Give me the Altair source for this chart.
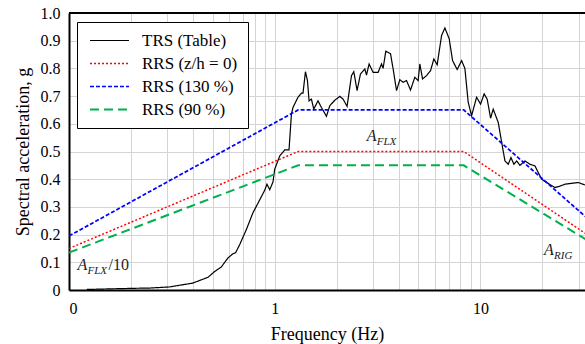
import altair as alt
import pandas as pd

# ---- TRS (Table) curve ----
trs_freq = [0.122, 0.204, 0.246, 0.308, 0.400, 0.474, 0.511, 0.550, 0.593, 0.627,
            0.645, 0.676, 0.728, 0.784, 0.845, 0.894, 0.917, 0.946, 0.981, 1.000,
            1.058, 1.119, 1.174, 1.206, 1.227, 1.298, 1.349, 1.373, 1.411, 1.443,
            1.469, 1.509, 1.548, 1.624, 1.687, 1.785, 1.852, 1.959, 2.072, 2.150,
            2.248, 2.362, 2.424, 2.515, 2.612, 2.742, 2.794, 2.877, 3.008, 3.183,
            3.306, 3.365, 3.468, 3.656, 3.765, 3.911, 4.058, 4.210, 4.374, 4.574,
            4.800, 4.981, 5.077, 5.233, 5.473, 5.724, 5.940, 6.164, 6.476, 6.721,
            7.052, 7.324, 7.712, 8.101, 8.407, 8.722, 9.061, 9.583, 10.02, 10.43,
            10.79, 11.21, 11.54, 12.21, 12.69, 13.16, 13.66, 14.08, 14.55, 15.00,
            15.57, 16.46, 17.41, 18.42, 19.11, 19.86, 21.00, 23.04, 24.37, 25.77,
            27.79, 29.92, 32.25]
trs_acc = [0.002, 0.006, 0.007, 0.011, 0.025, 0.046, 0.067, 0.083, 0.116, 0.131,
           0.134, 0.164, 0.218, 0.279, 0.325, 0.360, 0.382, 0.362, 0.390, 0.436,
           0.484, 0.506, 0.506, 0.635, 0.659, 0.696, 0.711, 0.711, 0.788, 0.756,
           0.683, 0.689, 0.653, 0.683, 0.659, 0.627, 0.665, 0.685, 0.699, 0.689,
           0.663, 0.774, 0.788, 0.720, 0.780, 0.798, 0.776, 0.816, 0.786, 0.786,
           0.816, 0.800, 0.862, 0.853, 0.798, 0.720, 0.759, 0.750, 0.756, 0.722,
           0.768, 0.756, 0.816, 0.762, 0.774, 0.792, 0.834, 0.813, 0.919, 0.946,
           0.907, 0.828, 0.796, 0.828, 0.800, 0.678, 0.629, 0.696, 0.671, 0.708,
           0.689, 0.620, 0.653, 0.605, 0.533, 0.466, 0.454, 0.478, 0.454, 0.466,
           0.450, 0.466, 0.454, 0.448, 0.424, 0.400, 0.388, 0.370, 0.375, 0.382,
           0.385, 0.388, 0.379]

# ---- Required response spectra ----
rrs_freq = [0.1, 1.3, 8.3, 33.0]
rrs_base = [0.15, 0.50, 0.50, 0.20]
rrs_130 = [0.195, 0.65, 0.65, 0.26]
rrs_90 = [0.135, 0.45, 0.45, 0.18]

series_names = ["TRS (Table)", "RRS (z/h = 0)", "RRS (130 %)", "RRS (90 %)"]
series_colors = ["#000000", "#ff0000", "#0000ff", "#00b050"]
series_dash = [[1, 0], [2, 2], [4, 2], [9, 5]]
series_width = [1.2, 2.0, 1.4, 1.6]

# ---- Axis ticks ----
x_grid = [0.1, 0.2, 0.3, 0.4, 0.5, 0.6, 0.7, 0.8, 0.9,
          1, 2, 3, 4, 5, 6, 7, 8, 9, 10, 20, 30]
y_ticks = [0.0, 0.1, 0.2, 0.3, 0.4, 0.5, 0.6, 0.7, 0.8, 0.9, 1.0]

# ---- Annotations ----
ann_freq = [2.8, 0.11, 20.4]
ann_acc = [0.537, 0.072, 0.127]
ann_main = ["A", "A", "A"]
ann_sub = ["FLX", "FLX", "RIG"]
ann_tail_freq = [0.11]
ann_tail_acc = [0.072]
ann_tail = ["/10"]

rows = []
for f, a in zip(trs_freq, trs_acc):
    rows.append({"f": f, "g": a, "series": series_names[0], "o": len(rows)})
for name, vals in zip(series_names[1:], [rrs_base, rrs_130, rrs_90]):
    for f, a in zip(rrs_freq, vals):
        rows.append({"f": f, "g": a, "series": name, "o": len(rows)})
df = pd.DataFrame(rows)

ann_df = pd.DataFrame({"f": ann_freq, "g": ann_acc, "main": ann_main, "sub": ann_sub})
tail_df = pd.DataFrame({"f": ann_tail_freq, "g": ann_tail_acc, "t": ann_tail})

FONT = "Liberation Serif"

xscale = alt.Scale(type="log", domain=[0.1, 32.25], nice=False)
yscale = alt.Scale(domain=[0, 1], nice=False)

x_label_expr = ("abs(datum.value - 0.1) < 1e-9 ? '0' : "
                "(abs(datum.value - 1) < 1e-9 ? '1' : "
                "(abs(datum.value - 10) < 1e-9 ? '10' : ''))")
y_label_expr = "datum.value == 0 ? '0' : format(datum.value, '.1f')"

axis_style = dict(labelFont=FONT, titleFont=FONT, labelFontSize=16, titleFontSize=18,
                  labelColor="black", titleColor="black", titleFontWeight="normal",
                  gridColor="#d4d4d4", gridWidth=1, domainColor="black", domainWidth=2,
                  ticks=False, grid=True, labelOverlap=False)

x_axis = alt.Axis(title="Frequency (Hz)", values=x_grid, labelExpr=x_label_expr,
                  labelPadding=10, titlePadding=9, **axis_style)
y_axis = alt.Axis(title="Spectral acceleration, g", values=y_ticks, labelExpr=y_label_expr,
                  labelPadding=9, titlePadding=8, **axis_style)

x_enc = alt.X("f:Q", scale=xscale, axis=x_axis)
y_enc = alt.Y("g:Q", scale=yscale, axis=y_axis)

legend_kw = dict(title=None, orient="none", legendX=8, legendY=9,
                 symbolType="M-0.85,0H5.15", symbolSize=169,
                 symbolStrokeWidth=1.5,
                 labelExpr="datum.label + '\u00a0'",
                 labelFont=FONT, labelFontSize=17, labelColor="black",
                 strokeColor="black", fillColor="white",
                 padding=10, rowPadding=5, labelOffset=38)

lines = alt.Chart(df).mark_line(clip=True).encode(
    x=x_enc,
    y=y_enc,
    order="o:Q",
    color=alt.Color("series:N",
                    scale=alt.Scale(domain=series_names, range=series_colors),
                    legend=alt.Legend(**legend_kw)),
    strokeDash=alt.StrokeDash("series:N",
                              scale=alt.Scale(domain=series_names, range=series_dash),
                              legend=alt.Legend(**legend_kw)),
    strokeWidth=alt.StrokeWidth("series:N",
                                scale=alt.Scale(domain=series_names, range=series_width),
                                legend=None),
)

top_border = alt.Chart(df).mark_rule(color="black", strokeWidth=2).encode(
    y=alt.Y(datum=1.0, scale=yscale, axis=y_axis)
)

ann_main_layer = alt.Chart(ann_df).mark_text(
    align="left", baseline="alphabetic", font=FONT, fontSize=16,
    fontStyle="italic", color="#222222"
).encode(x=x_enc, y=y_enc, text="main:N")

ann_sub_layer = alt.Chart(ann_df).mark_text(
    align="left", baseline="alphabetic", font=FONT, fontSize=11,
    fontStyle="italic", color="#222222", dx=10, dy=4
).encode(x=x_enc, y=y_enc, text="sub:N")

ann_tail_layer = alt.Chart(tail_df).mark_text(
    align="left", baseline="alphabetic", font=FONT, fontSize=16,
    color="#222222", dx=31
).encode(x=x_enc, y=y_enc, text="t:N")

chart = alt.layer(
    lines, top_border, ann_main_layer, ann_sub_layer, ann_tail_layer
).properties(
    width=516, height=277,
    autosize=alt.AutoSizeParams(type="none"),
    padding={"left": 69, "top": 13, "right": 0, "bottom": 54},
).configure(
    font=FONT, background="white"
).configure_view(
    stroke=None
).configure_axis(
    labelFont=FONT, titleFont=FONT, labelFontSize=16, titleFontSize=18,
    labelColor="black", titleColor="black", titleFontWeight="normal",
    gridColor="#d4d4d4", gridWidth=1, domainColor="black", domainWidth=2,
).configure_legend(
    labelFont=FONT, labelFontSize=17, labelColor="black",
)

chart.save("out.html", embed_options={"renderer": "svg", "actions": False})
